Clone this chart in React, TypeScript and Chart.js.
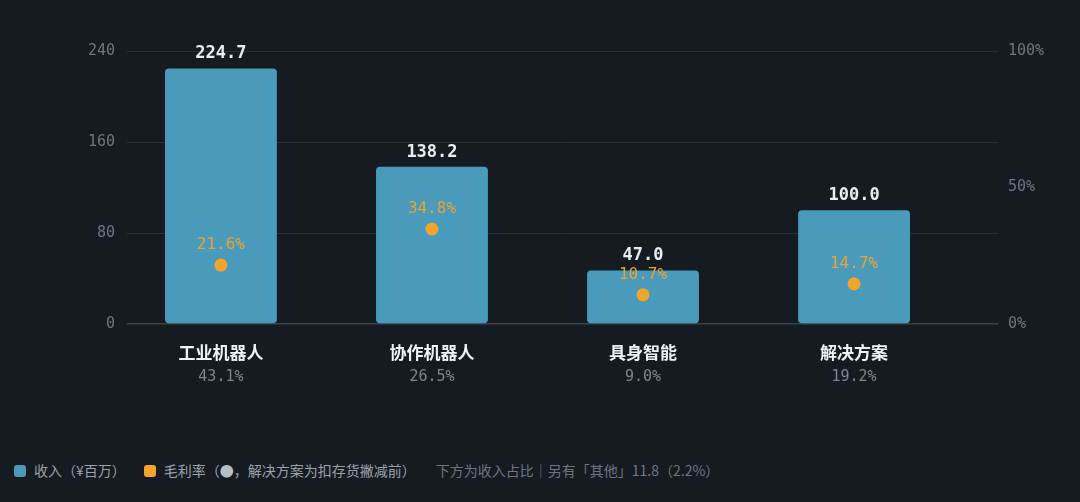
import { useEffect, useRef } from "react";
import { Chart, registerables } from "chart.js";

Chart.register(...registerables);

const categories = ["工业机器人", "协作机器人", "具身智能", "解决方案"];
const revenue = [224.7, 138.2, 47.0, 100.0];
const grossMargin = [21.6, 34.8, 10.7, 14.7];
const revenueShare = ["43.1%", "26.5%", "9.0%", "19.2%"];
const leftTicks = [0, 80, 160, 240];
const rightTicks = [0, 50, 100];

const BG = "#161b22";
const BAR = "#4a9bbb";
const ORANGE = "#f2a52b";
const MONO = "'DejaVu Sans Mono', monospace";
const CJK = "'Noto Sans CJK SC', 'Noto Sans', sans-serif";

const labelPlugin = {
  id: "labels",
  afterDatasetsDraw(chart: Chart) {
    const { ctx, chartArea } = chart;
    ctx.save();
    ctx.textAlign = "center";

    const bars = chart.getDatasetMeta(0).data;
    ctx.font = `bold 17px ${MONO}`;
    ctx.fillStyle = "#e6edf3";
    ctx.textBaseline = "bottom";
    bars.forEach((b: any, i) => ctx.fillText(revenue[i].toFixed(1), b.x, b.y - 6));

    const pts = chart.getDatasetMeta(1).data;
    ctx.font = `16px ${MONO}`;
    ctx.fillStyle = "#e9a436";
    ctx.textBaseline = "middle";
    pts.forEach((p: any, i) => ctx.fillText(grossMargin[i].toFixed(1) + "%", p.x, p.y - 20));

    ctx.font = `15px ${MONO}`;
    ctx.fillStyle = "#7d8590";
    bars.forEach((b: any, i) => ctx.fillText(revenueShare[i], b.x, chartArea.bottom + 53));
    ctx.restore();
  },
};

function RevenueChart() {
  const canvasRef = useRef<HTMLCanvasElement>(null);
  const chartRef = useRef<Chart | null>(null);

  useEffect(() => {
    document.body.style.margin = "0";
    document.body.style.background = BG;
    if (!canvasRef.current) return;
    if (chartRef.current) chartRef.current.destroy();

    chartRef.current = new Chart(canvasRef.current, {
      type: "bar",
      data: {
        datasets: [
          {
            type: "bar",
            data: revenue.map((v, i) => ({ x: i, y: v })),
            backgroundColor: BAR,
            borderRadius: 4,
            borderSkipped: false,
            barPercentage: 0.53,
            categoryPercentage: 1,
            yAxisID: "y",
            order: 2,
          },
          {
            type: "line",
            data: grossMargin.map((v, i) => ({ x: i, y: v })),
            showLine: false,
            pointRadius: 6.5,
            pointBackgroundColor: ORANGE,
            pointBorderWidth: 0,
            yAxisID: "y1",
            order: 1,
          } as any,
        ],
      },
      plugins: [labelPlugin],
      options: {
        animation: false,
        responsive: true,
        maintainAspectRatio: false,
        layout: { padding: { top: 51, left: 0, right: 0, bottom: 0 } },
        plugins: { legend: { display: false }, tooltip: { enabled: false } },
        scales: {
          x: {
            type: "linear",
            offset: false,
            bounds: "data",
            min: -0.445,
            max: 3.682,
            afterBuildTicks: (s: any) => { s.ticks = categories.map((_, i) => ({ value: i })); },
            afterFit: (s: any) => { s.height = 106; },
            ticks: {
              autoSkip: false,
              maxRotation: 0,
              padding: 10,
              color: "#f0f3f6",
              font: { family: CJK, size: 17, weight: "600" },
              callback: (v: any) => categories[Math.round(Number(v))] ?? "",
            },
            grid: { display: false, offset: false },
            border: { display: false },
          },
          y: {
            position: "left",
            min: 0,
            max: 240,
            afterBuildTicks: (s: any) => { s.ticks = leftTicks.map(v => ({ value: v })); },
            afterFit: (s: any) => { s.width = 127; },
            ticks: { color: "#6e7681", padding: 12, font: { family: MONO, size: 15 } },
            grid: {
              drawTicks: false,
              color: (c: any) => (c.tick?.value === 0 ? "#3b424b" : "#29303a"),
              lineWidth: (c: any) => (c.tick?.value === 0 ? 1.5 : 1),
            },
            border: { display: false },
          },
          y1: {
            position: "right",
            min: 0,
            max: 100,
            afterBuildTicks: (s: any) => { s.ticks = rightTicks.map(v => ({ value: v })); },
            afterFit: (s: any) => { s.width = 82; },
            ticks: {
              color: "#6e7681",
              padding: 10,
              font: { family: MONO, size: 15 },
              callback: (v: any) => `${v}%`,
            },
            grid: { display: false, drawTicks: false },
            border: { display: false },
          },
        },
      },
    });
    return () => { chartRef.current?.destroy(); chartRef.current = null; };
  }, []);

  return (
    <div style={{ position: "absolute", left: 0, top: 0, width: 1080, height: 430 }}>
      <canvas ref={canvasRef} />
    </div>
  );
}

const swatch = (color: string) => (
  <span style={{ display: "inline-block", width: 12, height: 12, borderRadius: 3, background: color, marginRight: 8, verticalAlign: -1 }} />
);

export default function App() {
  return (
    <div style={{ position: "relative", width: 1080, height: 502, background: BG, overflow: "hidden" }}>
      <RevenueChart />
      <div
        style={{
          position: "absolute",
          left: 14,
          top: 460,
          fontFamily: CJK,
          fontSize: 14,
          color: "#9aa2ab",
          whiteSpace: "nowrap",
          lineHeight: "20px",
        }}
      >
        <span>{swatch(BAR)}收入（¥百万）</span>
        <span style={{ marginLeft: 18 }}>{swatch(ORANGE)}毛利率（<span style={{ color: "#b8bec6" }}>●</span>，解决方案为扣存货撇减前）</span>
        <span style={{ marginLeft: 20, color: "#6e7681" }}>下方为收入占比｜另有「其他」11.8（2.2%）</span>
      </div>
    </div>
  );
}
